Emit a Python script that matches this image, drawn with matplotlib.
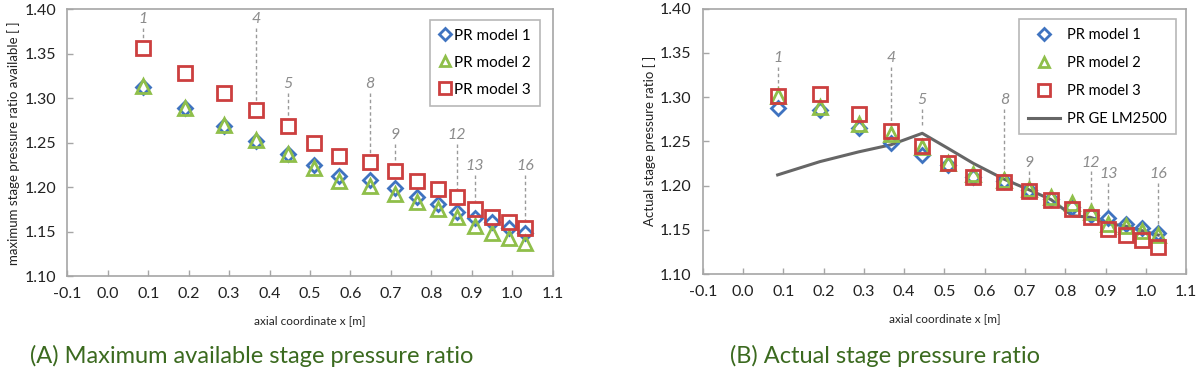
import numpy as np
import matplotlib
matplotlib.use("Agg")
import matplotlib.pyplot as plt

plt.rcParams['font.family'] = ['Lato', 'DejaVu Sans']

# stage positions along the compressor [m]
x_stage = [0.086, 0.191, 0.287, 0.367, 0.445, 0.509, 0.572, 0.649,
           0.711, 0.765, 0.817, 0.863, 0.907, 0.951, 0.991, 1.031]

# (A) maximum available stage pressure ratio
max_pr1 = [1.313, 1.289, 1.269, 1.252, 1.237, 1.225, 1.213, 1.208,
           1.199, 1.189, 1.181, 1.172, 1.166, 1.161, 1.154, 1.149]
max_pr2 = [1.314, 1.289, 1.270, 1.253, 1.238, 1.222, 1.207, 1.202,
           1.193, 1.184, 1.176, 1.167, 1.157, 1.149, 1.143, 1.137]
max_pr3 = [1.357, 1.329, 1.306, 1.287, 1.269, 1.250, 1.235, 1.229,
           1.218, 1.207, 1.198, 1.189, 1.176, 1.167, 1.161, 1.154]

# (B) actual stage pressure ratio
act_pr1 = [1.288, 1.285, 1.265, 1.248, 1.234, 1.223, 1.210, 1.205,
           1.195, 1.185, 1.176, 1.167, 1.163, 1.157, 1.152, 1.146]
act_pr2 = [1.301, 1.289, 1.269, 1.258, 1.243, 1.226, 1.213, 1.206,
           1.196, 1.187, 1.180, 1.170, 1.157, 1.154, 1.149, 1.144]
act_pr3 = [1.301, 1.303, 1.281, 1.262, 1.245, 1.226, 1.210, 1.204,
           1.194, 1.184, 1.173, 1.164, 1.151, 1.144, 1.138, 1.131]
ge_lm2500 = [1.212, 1.227, 1.238, 1.246, 1.259, 1.242, 1.225, 1.207,
             1.195, 1.184, 1.166, 1.164, 1.157, 1.154, 1.149, 1.144]

# stage number callouts: stage, label height, end of dashed line
stage_ids = [1, 4, 5, 8, 9, 12, 13, 16]
max_label_y = [1.389, 1.389, 1.316, 1.316, 1.259, 1.259, 1.224, 1.224]
max_line_end = [1.367, 1.296, 1.279, 1.238, 1.227, 1.198, 1.185, 1.163]
act_label_y = [1.344, 1.344, 1.297, 1.297, 1.226, 1.226, 1.213, 1.213]
act_line_end = [1.310, 1.271, 1.268, 1.214, 1.203, 1.174, 1.170, 1.152]

xticks = np.round(np.arange(-0.1, 1.11, 0.1), 1)
yticks = np.round(np.arange(1.10, 1.401, 0.05), 2)

blue = "#3f73c0"
green = "#8fbf4a"
red = "#cc3f3f"
grid_gray = "#a6a6a6"
caption_green = "#3b6a1f"


def style_axes(ax, ylabel):
    ax.set_xlim(-0.1, 1.1)
    ax.set_ylim(1.10, 1.40)
    ax.set_xticks(xticks)
    ax.set_xticklabels(["{:.1f}".format(t) for t in xticks])
    ax.set_yticks(yticks)
    ax.set_yticklabels(["{:.2f}".format(t) for t in yticks])
    ax.tick_params(axis="both", direction="in", length=4, width=1,
                   color=grid_gray, labelsize=11.5, labelcolor="#222222")
    ax.tick_params(axis="x", pad=8)
    ax.tick_params(axis="y", pad=8)
    for sp in ax.spines.values():
        sp.set_color(grid_gray)
        sp.set_linewidth(1.2)
    ax.set_xlabel("axial coordinate x [m]", fontsize=8.5, labelpad=10,
                  color="#222222")
    ax.set_ylabel(ylabel, fontsize=9.5, labelpad=3, color="#222222")


def callouts(ax, label_y, line_end):
    for sid, ly, le in zip(stage_ids, label_y, line_end):
        xs = x_stage[sid - 1]
        ax.text(xs, ly, str(sid), ha="center", va="center", fontsize=11.5,
                style="italic", color="#8c8c8c")
        ax.plot([xs, xs], [ly - 0.010, le], linestyle=(0, (2.5, 2)),
                color="#9a9a9a", linewidth=1)


def scatter_models(ax, pr1, pr2, pr3):
    ax.plot(x_stage, pr1, linestyle="none", marker="D", markersize=7.5,
            markerfacecolor="none", markeredgecolor=blue,
            markeredgewidth=2, label="PR model 1", zorder=3)
    ax.plot(x_stage, pr2, linestyle="none", marker="^", markersize=9.5,
            markerfacecolor="none", markeredgecolor=green,
            markeredgewidth=2, label="PR model 2", zorder=4)
    ax.plot(x_stage, pr3, linestyle="none", marker="s", markersize=10,
            markerfacecolor="none", markeredgecolor=red,
            markeredgewidth=2, label="PR model 3", zorder=5)


fig = plt.figure(figsize=(12, 3.72), dpi=100)
ax1 = fig.add_axes([0.0561, 0.2573, 0.4045, 0.7172])
ax2 = fig.add_axes([0.5856, 0.2634, 0.4028, 0.7137])

# (A)
style_axes(ax1, "maximum stage pressure ratio available [ ]")
callouts(ax1, max_label_y, max_line_end)
scatter_models(ax1, max_pr1, max_pr2, max_pr3)
leg1 = ax1.legend(loc="upper right", bbox_to_anchor=(0.984, 0.979),
                  fontsize=11, frameon=True, fancybox=False,
                  edgecolor=grid_gray, handlelength=0.8, handletextpad=0.2,
                  labelspacing=0.85, borderpad=0.6, borderaxespad=0.3,
                  markerscale=0.8)
leg1.get_frame().set_linewidth(1.2)

# (B)
style_axes(ax2, "Actual stage pressure ratio [ ]")
callouts(ax2, act_label_y, act_line_end)
ax2.plot(x_stage, ge_lm2500, color="#666666", linewidth=2.2,
         label="PR GE LM2500", zorder=2)
scatter_models(ax2, act_pr1, act_pr2, act_pr3)
handles, labels = ax2.get_legend_handles_labels()
order = [1, 2, 3, 0]
leg2 = ax2.legend([handles[i] for i in order], [labels[i] for i in order],
                  loc="upper right", bbox_to_anchor=(0.9876, 0.9755),
                  fontsize=10.5, frameon=True, fancybox=False,
                  edgecolor=grid_gray, handlelength=2.2, handletextpad=0.5,
                  labelspacing=0.95, borderpad=0.6, borderaxespad=0.3,
                  markerscale=0.8)
leg2.get_frame().set_linewidth(1.2)

fig.text(30 / 1200, 1 - 356 / 372, "(A) Maximum available stage pressure ratio",
         ha="left", va="center", fontsize=17, color=caption_green)
fig.text(730 / 1200, 1 - 356 / 372, "(B) Actual stage pressure ratio",
         ha="left", va="center", fontsize=17, color=caption_green)

fig.savefig("out.png", dpi=100)
